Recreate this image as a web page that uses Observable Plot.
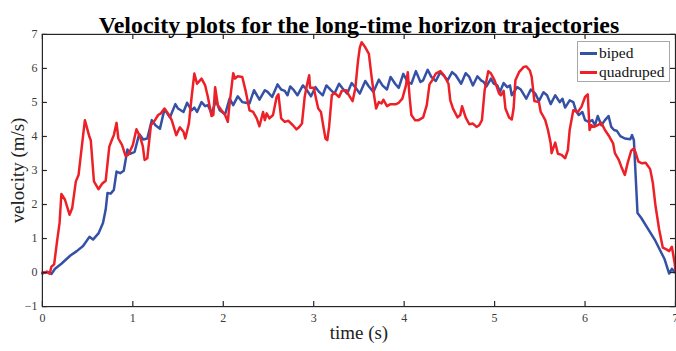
<!DOCTYPE html>
<html>
<head>
<meta charset="utf-8">
<script src="https://cdn.jsdelivr.net/npm/d3@7"></script>
<script src="https://cdn.jsdelivr.net/npm/@observablehq/plot@0.6"></script>
<style>
  html, body { margin: 0; padding: 0; background: #fff; overflow: hidden; }
  #wrap { position: relative; width: 676px; height: 351px; overflow: hidden; }
  #legend { position: absolute; left: 577px; top: 41px; width: 93px; height: 41px;
    border: 1px solid #a8a8a8; background: #fff; font-family: "Liberation Serif", serif;
    font-size: 15.5px; color: #111; box-sizing: border-box; }
  .item { position: absolute; left: 2px; display: flex; align-items: center; height: 18px; }
  .swatch { width: 17px; height: 3px; margin-right: 2px; }
</style>
</head>
<body>
<div id="wrap"><div id="chart"></div><div id="legend"></div></div>
<script>
const title = "Velocity plots for the long-time horizon trajectories";
const xLabel = "time (s)";
const yLabel = "velocity (m/s)";
const xTicks = [0, 1, 2, 3, 4, 5, 6, 7];
const yTicks = [-1, 0, 1, 2, 3, 4, 5, 6, 7];
const seriesNames = ["biped", "quadruped"];
const seriesColors = ["#3451a6", "#ee2027"];

const bipedTime = [0,0.05,0.1,0.14,0.21,0.31,0.38,0.45,0.52,0.56,0.62,0.67,0.70,0.72,0.755,0.79,0.82,0.86,0.90,0.94,0.97,1.02,1.07,1.115,1.16,1.21,1.25,1.30,1.35,1.41,1.47,1.50,1.56,1.60,1.65,1.68,1.71,1.76,1.80,1.83,1.87,1.92,1.96,2.02,2.07,2.11,2.16,2.21,2.25,2.29,2.34,2.40,2.46,2.49,2.54,2.60,2.64,2.68,2.71,2.74,2.78,2.82,2.88,2.92,2.97,3.02,3.06,3.10,3.14,3.19,3.23,3.28,3.32,3.37,3.42,3.47,3.51,3.57,3.61,3.66,3.72,3.76,3.81,3.85,3.90,3.94,3.99,4.04,4.08,4.13,4.18,4.21,4.26,4.30,4.35,4.40,4.45,4.48,4.53,4.57,4.63,4.68,4.72,4.76,4.81,4.85,4.88,4.91,4.96,4.99,5.03,5.06,5.10,5.14,5.17,5.19,5.25,5.29,5.35,5.40,5.45,5.49,5.54,5.58,5.62,5.67,5.72,5.75,5.78,5.83,5.87,5.90,5.93,5.97,6.00,6.04,6.08,6.11,6.14,6.18,6.22,6.26,6.29,6.32,6.35,6.39,6.44,6.50,6.52,6.54,6.58,6.62,6.77,6.88,6.93,6.96,6.99];
const bipedVelocity = [-0.03,0.03,-0.04,0.11,0.26,0.5,0.63,0.78,1.05,0.97,1.15,1.46,1.85,2.34,2.32,2.43,2.97,2.92,2.99,3.62,3.49,3.55,4.07,3.91,3.94,4.48,4.33,4.23,4.80,4.56,4.95,4.82,4.72,4.99,4.77,4.85,4.72,5.01,4.89,4.92,4.68,5.06,4.77,4.65,5.11,4.92,5.18,5.01,4.99,4.97,5.36,5.08,5.36,5.31,5.16,5.53,5.38,5.34,5.21,5.47,5.36,5.21,5.50,5.38,5.18,5.45,5.31,5.21,5.50,5.36,5.26,5.55,5.41,5.26,5.57,5.41,5.26,5.63,5.47,5.31,5.67,5.50,5.38,5.75,5.55,5.43,5.84,5.60,5.55,5.92,5.60,5.65,5.96,5.75,5.63,5.89,5.75,5.65,5.89,5.80,5.55,5.86,5.75,5.50,5.77,5.65,5.60,5.47,5.70,5.55,5.50,5.31,5.57,5.45,5.50,5.21,5.45,5.38,5.11,5.38,5.26,5.04,5.30,5.21,4.95,5.21,5.01,5.11,4.85,5.06,5.01,4.75,4.63,4.72,4.48,4.43,4.48,4.33,4.60,4.33,4.48,4.60,4.28,4.19,4.17,4.01,3.94,3.92,4.04,3.89,1.75,1.61,0.97,0.39,-0.03,0.11,0.01];

const quadrupedTime = [0,0.05,0.08,0.10,0.13,0.16,0.19,0.21,0.25,0.30,0.33,0.37,0.40,0.44,0.47,0.52,0.535,0.57,0.62,0.66,0.70,0.74,0.77,0.79,0.82,0.84,0.88,0.92,0.95,1.00,1.04,1.08,1.11,1.13,1.16,1.20,1.24,1.28,1.31,1.35,1.40,1.43,1.48,1.52,1.56,1.58,1.62,1.65,1.68,1.71,1.76,1.80,1.83,1.87,1.89,1.91,1.94,1.98,2.02,2.05,2.07,2.11,2.13,2.16,2.21,2.25,2.29,2.33,2.37,2.40,2.44,2.46,2.48,2.51,2.55,2.59,2.61,2.64,2.68,2.72,2.77,2.81,2.84,2.87,2.90,2.92,2.95,2.96,3.00,3.03,3.05,3.08,3.11,3.13,3.15,3.17,3.20,3.23,3.28,3.31,3.36,3.39,3.43,3.46,3.49,3.51,3.53,3.57,3.61,3.64,3.67,3.69,3.72,3.75,3.77,3.81,3.85,3.91,3.94,3.98,4.02,4.04,4.06,4.08,4.12,4.16,4.21,4.25,4.28,4.31,4.35,4.40,4.44,4.49,4.51,4.54,4.59,4.62,4.64,4.68,4.72,4.76,4.80,4.83,4.86,4.89,4.93,4.96,5.00,5.05,5.07,5.10,5.12,5.16,5.19,5.21,5.23,5.27,5.32,5.35,5.39,5.41,5.44,5.49,5.51,5.53,5.56,5.59,5.62,5.63,5.67,5.70,5.74,5.78,5.81,5.83,5.87,5.92,5.96,6.00,6.03,6.05,6.07,6.10,6.14,6.18,6.22,6.27,6.31,6.33,6.37,6.40,6.44,6.47,6.51,6.54,6.56,6.59,6.63,6.67,6.72,6.75,6.78,6.82,6.86,6.90,6.93,6.96,6.99,7.00];
const quadrupedVelocity = [0,0.01,-0.03,0.17,0.24,0.87,1.46,2.31,2.14,1.70,1.90,2.68,2.87,3.80,4.48,3.99,3.89,2.68,2.45,2.61,2.70,3.70,3.91,4.04,4.40,3.94,3.75,3.43,3.46,3.75,4.21,3.99,3.72,3.31,3.36,4.33,4.46,4.63,4.68,4.82,4.63,4.48,4.04,4.27,4.14,3.94,4.38,5.16,5.85,5.55,5.70,5.50,5.16,4.60,4.63,5.45,4.92,4.77,4.63,4.43,4.97,5.86,5.70,5.77,5.75,5.31,4.77,4.72,4.53,4.30,4.72,4.48,4.68,4.53,4.63,5.16,5.24,4.53,4.43,4.46,4.33,4.21,4.28,4.38,5.16,5.45,5.80,5.43,5.43,5.06,4.82,4.72,4.24,3.94,3.89,4.28,5.21,5.28,5.16,5.34,5.36,5.21,5.04,5.41,6.23,6.62,6.77,6.62,6.43,5.75,5.16,4.82,5.01,4.97,5.08,4.89,4.95,4.95,4.99,5.11,5.50,5.89,5.16,4.63,4.48,4.48,4.56,4.92,5.53,5.65,5.85,5.92,5.80,5.55,5.06,4.82,4.56,4.63,4.89,4.56,4.36,4.38,4.28,4.33,4.48,5.36,5.92,5.85,5.65,5.26,5.21,5.34,4.82,4.56,4.50,4.82,5.65,5.89,6.04,6.06,5.94,5.75,5.04,5.01,4.72,4.63,4.48,4.19,3.80,3.51,3.82,3.49,3.46,3.36,3.60,4.19,4.77,4.72,4.87,5.16,5.24,4.19,4.33,4.28,4.33,4.40,4.19,3.99,3.80,3.51,3.33,3.12,2.87,3.21,3.58,3.65,3.52,3.26,3.21,3.23,3.04,2.63,1.94,1.26,0.73,0.68,0.63,0.76,0.29,0.05];

const data = [
  ...bipedTime.map((t, i) => ({t, v: bipedVelocity[i], s: seriesNames[0]})),
  ...quadrupedTime.map((t, i) => ({t, v: quadrupedVelocity[i], s: seriesNames[1]}))
];

const W = 678, H = 351, mL = 42, mR = 1, mT = 34, mB = 44;
const innerW = W - mL - mR, innerH = H - mT - mB;
const tickLen = 5;
const tickColor = "#262626";
const labelColor = "#3a3a3a";
const fmt = d3.format("d");

const chart = Plot.plot({
  width: W,
  height: H,
  marginLeft: mL,
  marginRight: mR,
  marginTop: mT,
  marginBottom: mB,
  style: {fontFamily: "'Liberation Serif', 'Times New Roman', serif", background: "#fff"},
  x: {domain: [0, 7], ticks: xTicks},
  y: {domain: [-1, 7], ticks: yTicks},
  color: {domain: seriesNames, range: seriesColors},
  marks: [
    Plot.line(data, {x: "t", y: "v", z: "s", stroke: "s", strokeWidth: 2.5, curve: "linear"}),
    // inward ticks on all four sides
    Plot.tickX(xTicks, {x: d => d, stroke: tickColor, strokeWidth: 1.2, insetTop: innerH - tickLen}),
    Plot.tickX(xTicks, {x: d => d, stroke: tickColor, strokeWidth: 1.2, insetBottom: innerH - tickLen}),
    Plot.tickY(yTicks, {y: d => d, stroke: tickColor, strokeWidth: 1.2, insetRight: innerW - tickLen}),
    Plot.tickY(yTicks, {y: d => d, stroke: tickColor, strokeWidth: 1.2, insetLeft: innerW - tickLen}),
    Plot.frame({stroke: tickColor, strokeWidth: 1.2}),
    Plot.axisX({anchor: "bottom", ticks: xTicks, tickFormat: fmt, tickSize: 0, tickPadding: 7, fontSize: 12, fill: labelColor, label: null}),
    Plot.axisY({anchor: "left", ticks: yTicks, tickFormat: fmt, tickSize: 0, tickPadding: 5, fontSize: 12, fill: labelColor, label: null}),
    Plot.text([title], {frameAnchor: "top", dy: -18, fontSize: 24, fontWeight: "bold", fill: "#000"}),
    Plot.text([xLabel], {frameAnchor: "bottom", dy: 33, fontSize: 19, fill: "#222"}),
    Plot.text([yLabel], {frameAnchor: "left", textAnchor: "middle", dx: -25, rotate: -90, fontSize: 19, fill: "#222"})
  ]
});
document.getElementById("chart").appendChild(chart);

const legend = document.getElementById("legend");
seriesNames.forEach((name, i) => {
  const item = document.createElement("div");
  item.className = "item";
  item.style.top = (2 + i * 19) + "px";
  const sw = document.createElement("div");
  sw.className = "swatch";
  sw.style.background = seriesColors[i];
  const lab = document.createElement("span");
  lab.textContent = name;
  item.appendChild(sw);
  item.appendChild(lab);
  legend.appendChild(item);
});
</script>
</body>
</html>
